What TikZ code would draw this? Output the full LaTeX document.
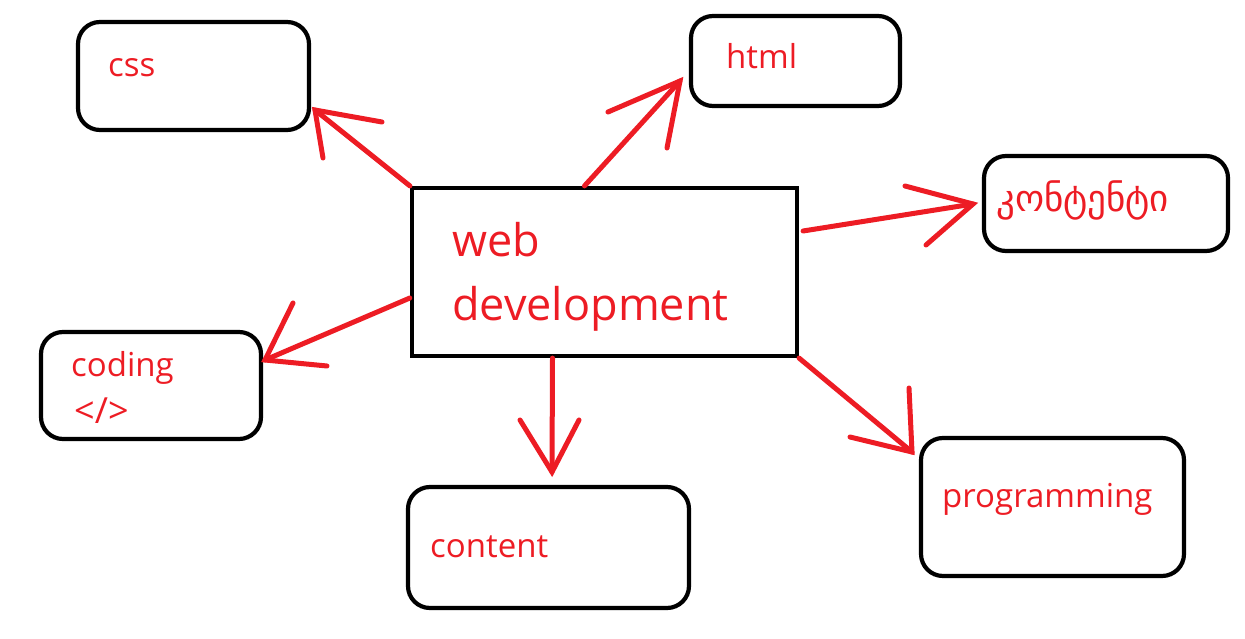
\documentclass[tikz,border=0pt]{standalone}
\usepackage{fontspec}
\setmainfont{Open Sans}
\newfontfamily\geofont{DejaVu Sans}
\definecolor{pred}{HTML}{ED1C24}
\begin{document}
\begin{tikzpicture}[x=1pt,y=-1pt,
  roundbox/.style={draw=black,line width=4.2pt,rounded corners=22pt,inner sep=0pt},
  mainbox/.style={draw=black,line width=4.2pt,inner sep=0pt},
  lbl/.style={anchor=base west,inner sep=0pt,text=pred,font=\fontsize{33}{38}\selectfont},
  biglbl/.style={anchor=base west,inner sep=0pt,text=pred,font=\fontsize{45}{52}\selectfont},
  arr/.style={draw=pred,line width=5pt,line cap=round}]
\useasboundingbox (0,0) rectangle (1245,639);
% boxes
\node[roundbox,minimum width=231pt,minimum height=108pt] (css) at (193.5,76) {};
\node[roundbox,minimum width=209pt,minimum height=90pt] (html) at (795.5,61) {};
\node[roundbox,minimum width=244pt,minimum height=95pt] (geo) at (1106,203.5) {};
\node[roundbox,minimum width=220pt,minimum height=107pt] (coding) at (151,385.5) {};
\node[roundbox,minimum width=281pt,minimum height=121pt] (content) at (548.5,547.5) {};
\node[roundbox,minimum width=263pt,minimum height=138pt] (prog) at (1052.5,507) {};
\node[mainbox,minimum width=385pt,minimum height=168pt] (web) at (604.5,272) {};
% labels
\node[lbl] (tcss) at (108,77) {css};
\node[lbl] (thtml) at (726,69) {html};
\node[lbl,font=\geofont\fontsize{37}{40}\selectfont] (tgeo) at (996,212) {კონტენტი};
\node[lbl] (tcoding) at (71,376) {coding};
\node[lbl,font=\fontsize{36}{40}\selectfont] (tcode) at (74,423) {</>};
\node[lbl] (tcontent) at (430,557) {content};
\node[lbl] (tprog) at (942,507) {programming};
\node[biglbl] (tweb) at (452,257) {web};
\node[biglbl] (tdev) at (452,320) {development};
% arrow tips and head ends
\coordinate (tipcss) at (315,110);
\coordinate (hcssa) at (382,122);
\coordinate (hcssb) at (323,158);
\coordinate (tiphtml) at (680,81);
\coordinate (hhtmla) at (608,112);
\coordinate (hhtmlb) at (667,148);
\coordinate (tipgeo) at (973,204);
\coordinate (hgeoa) at (905,186);
\coordinate (hgeob) at (926,245);
\coordinate (tipcoding) at (265,360);
\coordinate (hcodinga) at (293,303);
\coordinate (hcodingb) at (327,366);
\coordinate (tipcontent) at (552,472);
\coordinate (hcontenta) at (520,420);
\coordinate (hcontentb) at (579,420);
\coordinate (tipprog) at (912,452);
\coordinate (hproga) at (909,388);
\coordinate (hprogb) at (850,437);
% connectors
\draw[arr] (web.north west) -- (tipcss);
\draw[arr] (hcssa) -- (tipcss) -- (hcssb);
\draw[arr] ([xshift=-20pt]web.north) -- (tiphtml);
\draw[arr] (hhtmla) -- (tiphtml) -- (hhtmlb);
\draw[arr] ([xshift=4pt,yshift=41pt]web.east) -- (tipgeo);
\draw[arr] (hgeoa) -- (tipgeo) -- (hgeob);
\draw[arr] ([yshift=-26pt]web.west) -- (tipcoding);
\draw[arr] (hcodinga) -- (tipcoding) -- (hcodingb);
\draw[arr] ([xshift=-52pt]web.south) -- (tipcontent);
\draw[arr] (hcontenta) -- (tipcontent) -- (hcontentb);
\draw[arr] (web.south east) -- (tipprog);
\draw[arr] (hproga) -- (tipprog) -- (hprogb);
\end{tikzpicture}
\end{document}
